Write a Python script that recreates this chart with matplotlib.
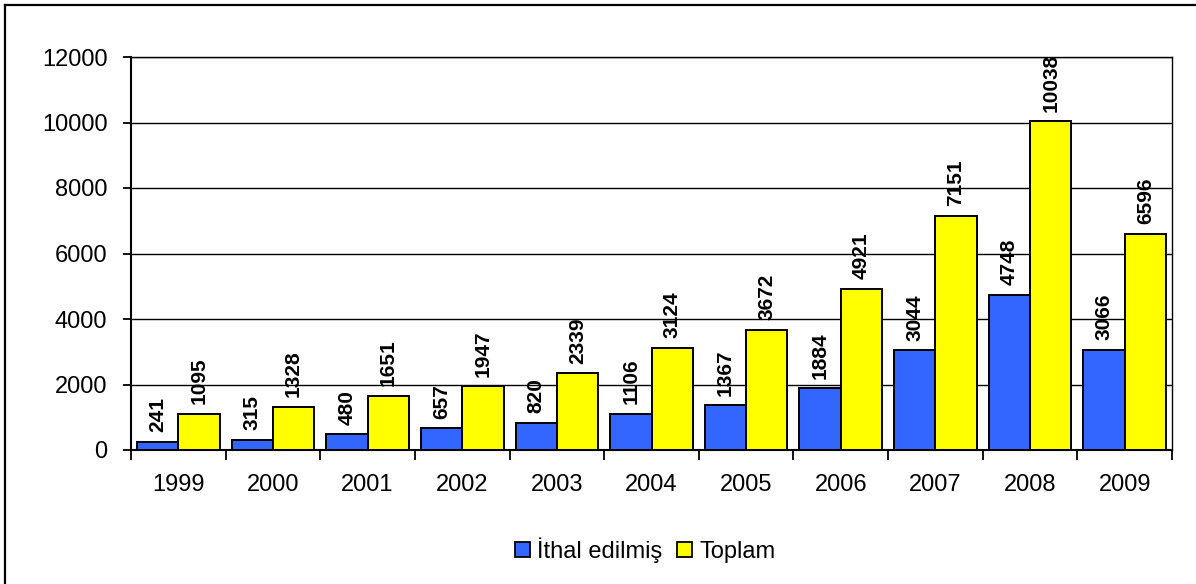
import matplotlib
matplotlib.use("Agg")
import matplotlib.pyplot as plt
from matplotlib.lines import Line2D
from matplotlib.patches import Patch
import numpy as np

years = ["1999", "2000", "2001", "2002", "2003", "2004", "2005", "2006", "2007", "2008", "2009"]
ithal = [241, 315, 480, 657, 820, 1106, 1367, 1884, 3044, 4748, 3066]
toplam = [1095, 1328, 1651, 1947, 2339, 3124, 3672, 4921, 7151, 10038, 6596]
yticks = [0, 2000, 4000, 6000, 8000, 10000, 12000]
series_names = ["İthal edilmiş", "Toplam"]

plt.rcParams['font.family'] = ['Liberation Sans', 'DejaVu Sans']

W, H = 1196, 584
fig = plt.figure(figsize=(W / 100, H / 100), dpi=100)
ax = fig.add_axes([131 / W, 1 - 450 / H, (1172 - 131) / W, (450 - 57) / H])

x = np.arange(len(years))
bw = 0.4366
blue = "#3366FF"
yellow = "#FFFF00"
b1 = ax.bar(x - bw / 2, ithal, bw, color=blue, edgecolor="black", linewidth=1.4, zorder=3)
b2 = ax.bar(x + bw / 2, toplam, bw, color=yellow, edgecolor="black", linewidth=1.4, zorder=3)

for bars in (b1, b2):
    ax.bar_label(bars, rotation=90, padding=7, fontsize=15, fontweight="bold")

ax.set_xlim(-0.5, len(years) - 0.5)
ax.set_ylim(0, 12000)
ax.set_yticks(yticks)
ax.set_yticklabels([str(v) for v in yticks], fontsize=17)
ax.set_xticks(x)
ax.set_xticklabels(years, fontsize=17)
ax.set_xticks(np.arange(-0.5, len(years)), minor=True)
ax.tick_params(axis="x", which="major", length=0, pad=17)
ax.tick_params(axis="x", which="minor", direction="out", length=7, width=1.3)
ax.tick_params(axis="y", which="major", direction="out", length=6, width=1.3, pad=11)

ax.yaxis.grid(True, color="black", linewidth=1.0, zorder=0)
ax.set_axisbelow(True)
for s in ("left", "bottom"):
    ax.spines[s].set_linewidth(1.5)
ax.spines["right"].set_linewidth(1.0)
ax.spines["top"].set_linewidth(1.0)

handles = [Patch(facecolor=blue, edgecolor="black", linewidth=1.3),
           Patch(facecolor=yellow, edgecolor="black", linewidth=1.3)]
fig.legend(handles, series_names, loc="center", bbox_to_anchor=(645 / W, 1 - 550 / H),
           ncol=2, frameon=False, fontsize=17, handlelength=0.65, handleheight=0.65,
           handletextpad=0.3, columnspacing=0.6)

# outer chart frame (left and top edges visible)
fig.add_artist(Line2D([5 / W, 5 / W], [0, 1 - 4.5 / H], color="black", linewidth=1.6,
                      transform=fig.transFigure))
fig.add_artist(Line2D([5 / W, 1], [1 - 4.5 / H, 1 - 4.5 / H], color="black", linewidth=1.6,
                      transform=fig.transFigure))

fig.savefig("out.png", dpi=100)
